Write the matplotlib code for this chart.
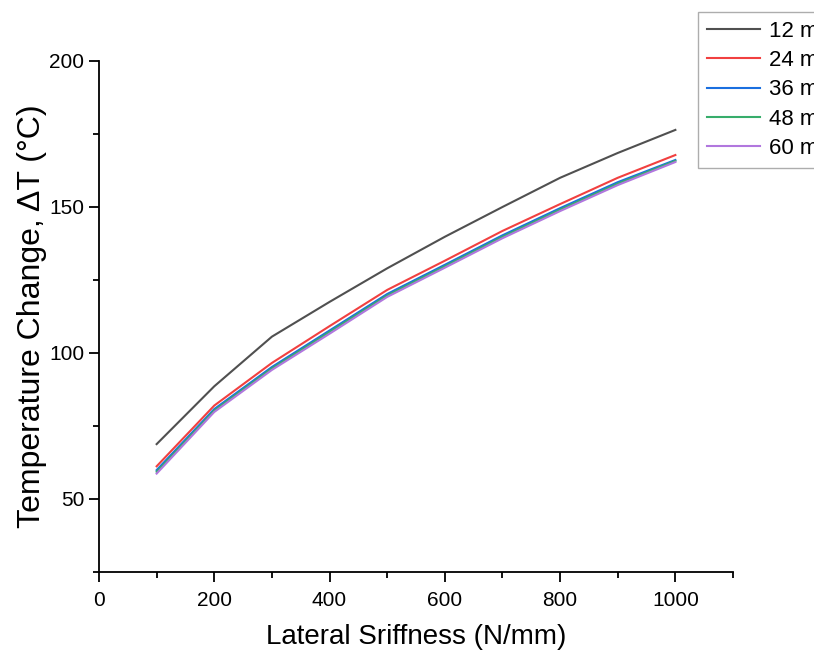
import matplotlib
matplotlib.use("Agg")
import matplotlib.pyplot as plt
from matplotlib.ticker import MultipleLocator

plt.rcParams['font.family'] = ['Liberation Sans', 'DejaVu Sans']

# Lateral stiffness (N/mm)
stiffness = [100, 200, 300, 400, 500, 600, 700, 800, 900, 1000]

# Temperature change for each thickness
dT_12 = [68.8, 88.6, 105.6, 117.5, 129.0, 139.8, 150.0, 160.0, 168.5, 176.4]
dT_24 = [61.2, 82.0, 96.6, 109.2, 121.6, 131.6, 141.8, 151.0, 160.0, 167.8]
dT_36 = [59.9, 80.8, 95.2, 107.7, 120.2, 130.2, 140.3, 149.6, 158.5, 166.1]
dT_48 = [59.3, 80.3, 94.7, 107.2, 119.7, 129.7, 139.8, 149.1, 158.0, 165.8]
dT_60 = [58.7, 79.8, 94.2, 106.6, 119.2, 129.2, 139.3, 148.6, 157.5, 165.4]

labels = ['12 mm', '24 mm', '36 mm', '48 mm', '60 mm']
colors = ['#505050', '#f14040', '#1a6fdf', '#37ad6b', '#b177de']

fig = plt.figure(figsize=(8.14, 6.53), dpi=100)
ax = fig.add_axes([99/814, 1 - 572/653, (733 - 99)/814, (572 - 61)/653])

for ys, lab, c in zip([dT_12, dT_24, dT_36, dT_48, dT_60], labels, colors):
    ax.plot(stiffness, ys, color=c, lw=1.5, label=lab)

ax.set_xlim(0, 1100)
ax.set_ylim(25, 200)
ax.xaxis.set_major_locator(MultipleLocator(200))
ax.xaxis.set_minor_locator(MultipleLocator(100))
ax.yaxis.set_major_locator(MultipleLocator(50))
ax.yaxis.set_minor_locator(MultipleLocator(25))
ax.spines['top'].set_visible(False)
ax.spines['right'].set_visible(False)
for s in ['left', 'bottom']:
    ax.spines[s].set_linewidth(1.3)
ax.tick_params(which='major', direction='out', length=7, width=1.3, labelsize=15)
ax.tick_params(axis='x', which='major', pad=7)
ax.tick_params(which='minor', direction='out', length=4, width=1.3)

ax.set_xlabel('Lateral Sriffness (N/mm)', fontsize=20, labelpad=10)
ax.set_ylabel('Temperature Change, ΔT (°C)', fontsize=23, labelpad=2)

fig.legend(loc='upper left', bbox_to_anchor=(698/814, 1 - 12/653), fontsize=16,
           frameon=True, fancybox=False, edgecolor='#999999', handlelength=2.4,
           borderpad=0.4, labelspacing=0.37, handletextpad=0.4, borderaxespad=0)

fig.savefig('out.png', dpi=100)
